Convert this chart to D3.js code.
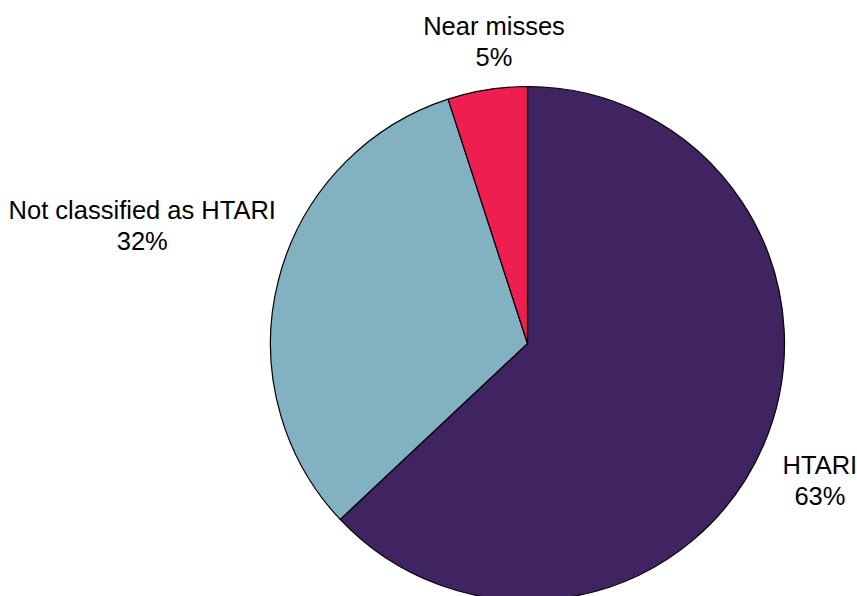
<!DOCTYPE html>
<html>
<head>
<meta charset="utf-8">
<script src="https://cdn.jsdelivr.net/npm/d3@7"></script>
<style>
  body { margin: 0; background: #fff; }
  svg { display: block; }
  text { font-family: "Liberation Sans", Arial, sans-serif; fill: #000; }
</style>
</head>
<body>
<div id="chart"></div>
<script>
// data, clockwise from 12 o'clock
var categories = ["HTARI", "Not classified as HTARI", "Near misses"];
var values = [63, 32, 5];
var colours = ["#3F2461", "#82B1C1", "#EE1E51"];
// label placement: gap from the pie edge, then a small nudge [dx, dy]
var label_gaps = [20, 7, 0];
var label_nudge = [[-4, 9], [3, -18], [13, -8]];

var width = 857, height = 596;
var cx = 527.5, cy = 343.5, radius = 257;
var font_size = 25.5, line_height = 31;

var svg = d3.select("#chart").append("svg")
    .attr("width", width)
    .attr("height", height);

var g = svg.append("g").attr("transform", "translate(" + cx + "," + cy + ")");

var pie = d3.pie().sort(null).value(function(d) { return d; });
var arcs = pie(values);

var arc = d3.arc().innerRadius(0).outerRadius(radius);

g.selectAll("path.slice")
    .data(arcs)
    .enter().append("path")
    .attr("class", "slice")
    .attr("d", arc)
    .attr("fill", function(d, i) { return colours[i]; })
    .attr("stroke", "#000")
    .attr("stroke-width", 1.2)
    .attr("stroke-linejoin", "round");

var total = d3.sum(values);

arcs.forEach(function(d, i)
{
    var mid = (d.startAngle + d.endAngle) / 2;
    var s = Math.sin(mid), c = Math.cos(mid);
    var lines = [categories[i], Math.round(d.value / total * 100) + "%"];

    var lbl = g.append("text")
        .attr("text-anchor", "middle")
        .style("font-size", font_size + "px");

    lines.forEach(function(t, k)
    {
        lbl.append("tspan").attr("x", 0).attr("y", k * line_height).text(t);
    });

    // measure the block, then push it out along the mid angle
    var bb = lbl.node().getBBox();
    var ext = Math.abs(s) * bb.width / 2 + Math.abs(c) * bb.height / 2;
    var r = radius + label_gaps[i] + ext;
    var px = r * s + label_nudge[i][0];
    var py = -r * c + label_nudge[i][1];
    var dy = py - (bb.y + bb.height / 2);
    lbl.attr("transform", "translate(" + px + "," + dy + ")");
});
</script>
</body>
</html>
